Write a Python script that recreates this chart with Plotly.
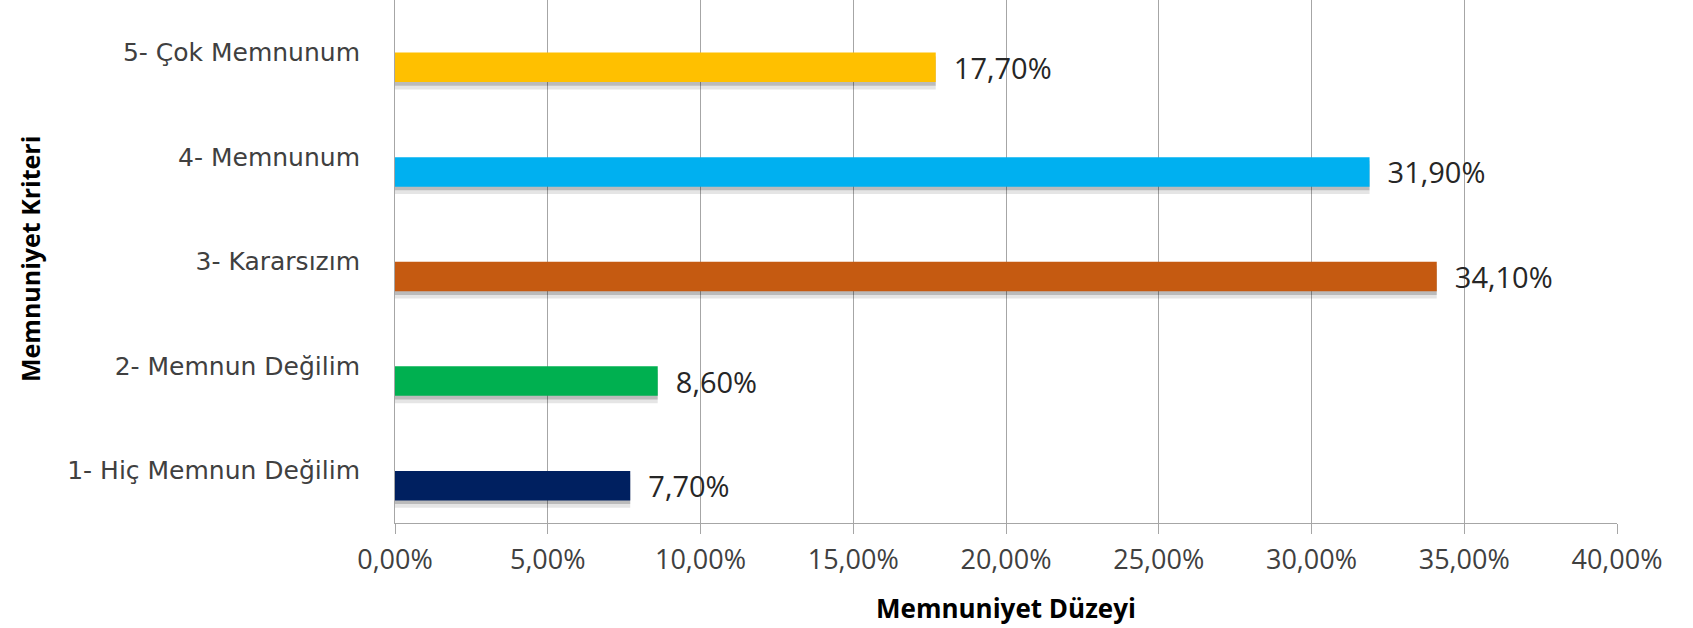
import plotly.graph_objects as go

categories = ["1- Hiç Memnun Değilim", "2- Memnun Değilim", "3- Kararsızım", "4- Memnunum", "5- Çok Memnunum"]
values = [0.077, 0.086, 0.341, 0.319, 0.177]
colors = ["#002060", "#00B050", "#C55A11", "#00B0F0", "#FFC000"]
x_ticks = [0, 0.05, 0.10, 0.15, 0.20, 0.25, 0.30, 0.35, 0.40]

BAR_W = 0.282
BAR_OFF = -0.1435 - BAR_W / 2
NB = "\u00a0"

fig = go.Figure()

# soft drop shadow under each bar
fig.add_trace(go.Bar(
    x=values, y=categories, orientation="h",
    marker=dict(color="rgba(0,0,0,0.10)", line=dict(width=0)),
    width=BAR_W, offset=BAR_OFF - 0.07, hoverinfo="skip", showlegend=False,
))
fig.add_trace(go.Bar(
    x=values, y=categories, orientation="h",
    marker=dict(color="rgba(0,0,0,0.18)", line=dict(width=0)),
    width=BAR_W, offset=BAR_OFF - 0.035, hoverinfo="skip", showlegend=False,
))

fig.add_trace(go.Bar(
    x=values, y=categories, orientation="h",
    marker=dict(color=colors, line=dict(width=0)),
    width=BAR_W, offset=BAR_OFF,
    texttemplate=NB * 2 + "%{x:.2%}", textposition="outside",
    constraintext="none", cliponaxis=False,
    textfont=dict(family="Open Sans", size=29, color="#262626"),
    showlegend=False,
))

fig.update_layout(
    width=1693, height=628,
    margin=dict(l=395, r=76, t=0, b=105),
    paper_bgcolor="white", plot_bgcolor="white",
    barmode="overlay",
    separators=",.",
    showlegend=False,
    xaxis=dict(
        range=[0, 0.40], tickvals=x_ticks, tickformat=".2%",
        showgrid=True, gridcolor="#a6a6a6", gridwidth=1,
        showline=True, linecolor="#a6a6a6", linewidth=1,
        ticks="outside", ticklen=10, tickcolor="#a6a6a6", tickwidth=1,
        ticklabelstandoff=3,
        tickfont=dict(family="Open Sans", size=27, color="#404040"),
        zeroline=False,
    ),
    yaxis=dict(
        type="category", categoryorder="array", categoryarray=categories,
        range=[-0.5, 4.5],
        showgrid=False, showline=True, linecolor="#a6a6a6", linewidth=1,
        ticks="", ticklabelstandoff=29,
        tickfont=dict(family="DejaVu Sans", size=25, color="#404040"),
        zeroline=False,
    ),
    annotations=[
        dict(text="<b>Memnuniyet Düzeyi</b>", xref="paper", yref="paper",
             x=0.5, y=-0.1625, xanchor="center", yanchor="middle", showarrow=False,
             font=dict(family="Open Sans", size=26, color="#000000")),
        dict(text="<b>Memnuniyet Kriteri</b>", xref="paper", yref="paper",
             x=(30 - 395) / 1222, y=(523 - 259) / 523, xanchor="center", yanchor="middle",
             textangle=-90, showarrow=False,
             font=dict(family="Open Sans", size=25, color="#000000")),
    ],
)

fig.write_html("out.html")
